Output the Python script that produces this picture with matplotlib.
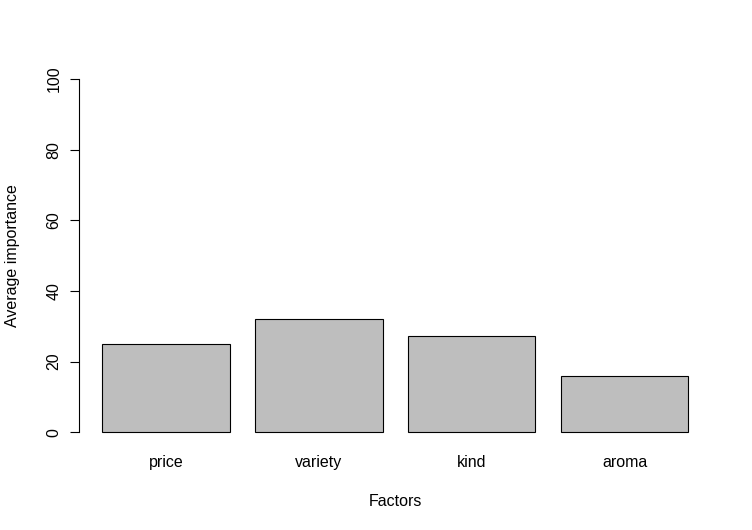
import numpy as np
import matplotlib.pyplot as plt

plt.rcParams['font.family'] = ['Liberation Sans', 'DejaVu Sans']

factors = ["price", "variety", "kind", "aroma"]
importance = [24.9, 32.2, 27.2, 16.0]

fig = plt.figure(figsize=(7.52, 5.30), dpi=100)
ax = fig.add_axes([0.1048, 0.1577, 0.9465 - 0.1048, 0.8775 - 0.1577])

# R barplot layout: width 1, space 0.2
x = 0.2 + np.arange(len(factors)) * 1.2 + 0.5
ax.bar(x, importance, width=1.0, color="#BEBEBE", edgecolor="black", linewidth=0.8)

ax.set_xlim(0.016, 4.984)
ax.set_ylim(-4, 104)

for s in ["top", "right", "bottom"]:
    ax.spines[s].set_visible(False)
ax.spines["left"].set_bounds(0, 100)
ax.spines["left"].set_linewidth(0.8)

fs = 11.5
ax.set_yticks([0, 20, 40, 60, 80, 100])
ax.set_yticklabels(["0", "20", "40", "60", "80", "100"], rotation=90, va="center", fontsize=fs)
ax.tick_params(axis="y", length=6.5, width=0.8, pad=6)

ax.set_xticks(x)
ax.set_xticklabels(factors, fontsize=fs)
ax.tick_params(axis="x", length=0, pad=6.5)

fig.text(0.5 * (0.1048 + 0.9465), 28 / 530, "Factors", ha="center", va="center", fontsize=fs)
fig.text(13 / 752, 0.5 * (0.1577 + 0.8775), "Average importance", ha="center", va="center",
         rotation=90, fontsize=fs)

fig.savefig("out.png", dpi=100)
